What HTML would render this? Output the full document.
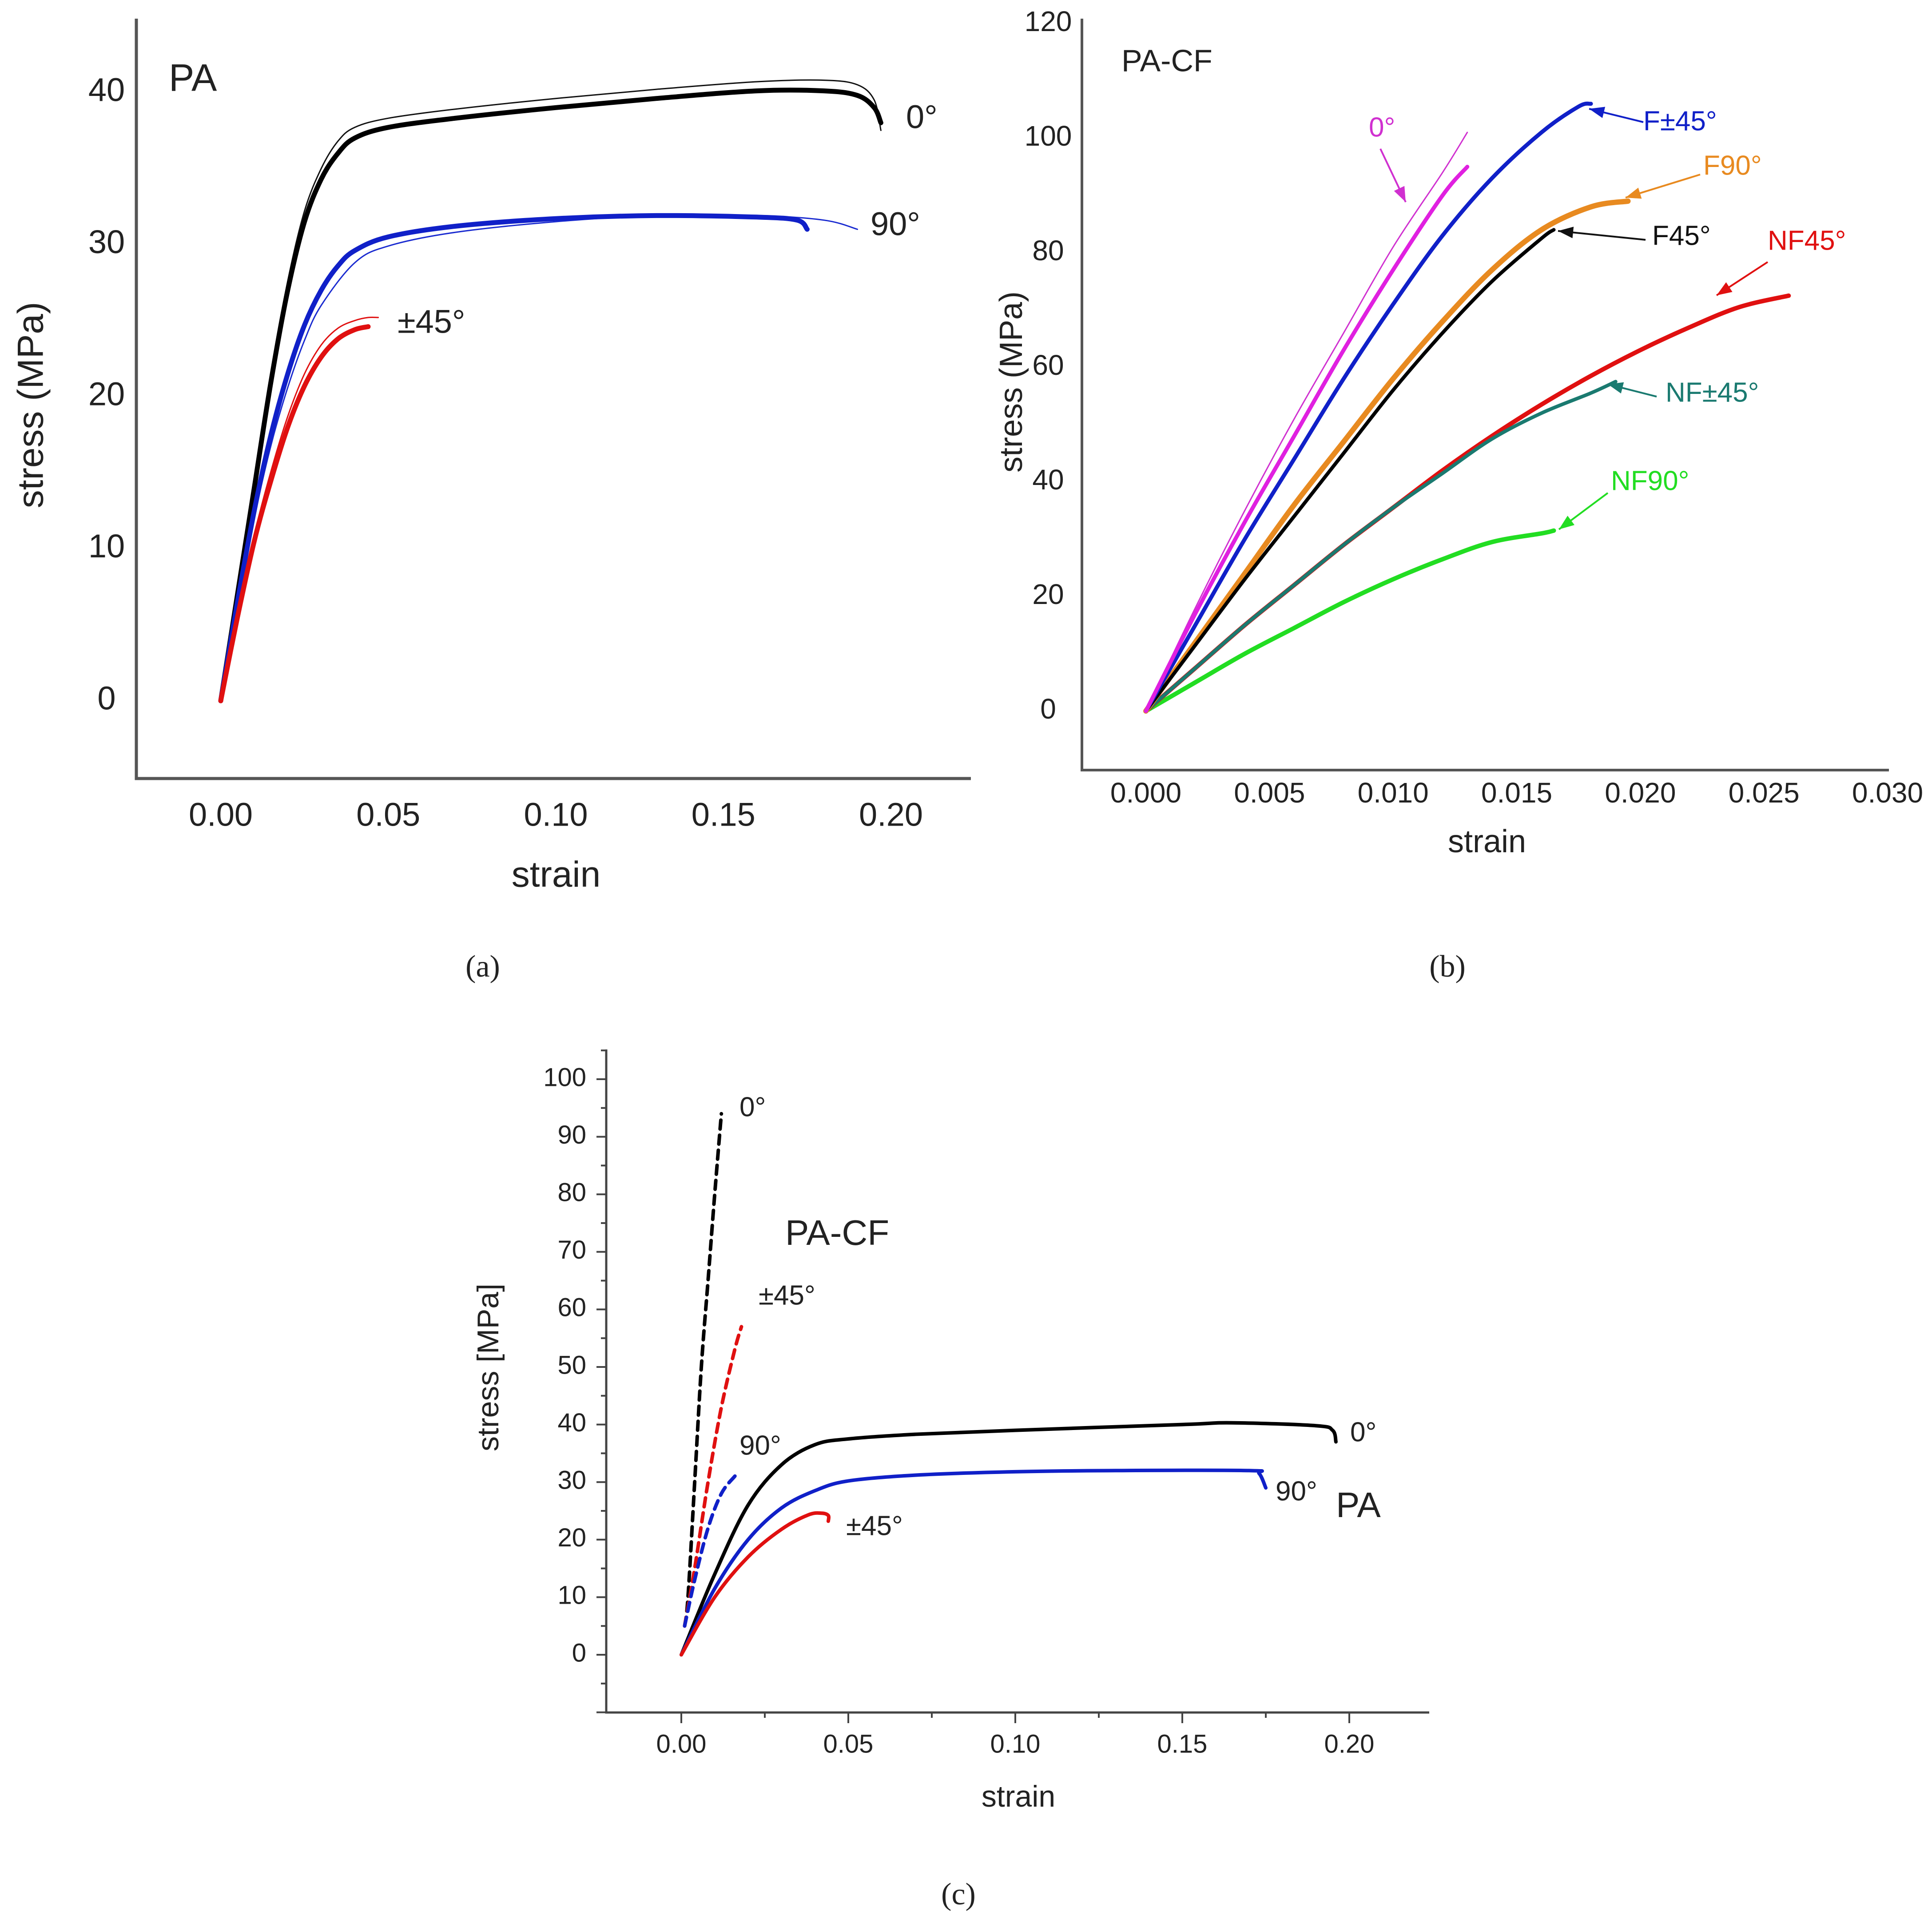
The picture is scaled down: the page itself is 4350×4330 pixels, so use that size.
<!DOCTYPE html>
<html><head><meta charset="utf-8">
<style>
html,body{margin:0;padding:0;background:#fff;}
svg{display:block;font-family:"Liberation Sans",sans-serif;}
</style></head>
<body>
<svg id="fig" width="4350" height="4330" viewBox="0 0 4350 4330" xmlns="http://www.w3.org/2000/svg">
<rect x="0" y="0" width="4350" height="4330" fill="#fff"/>
</svg>
<script>
// ---------- Chart (a) PA data ----------
const aStrain0 = [0,0.005,0.01,0.015,0.02,0.025,0.03,0.035,0.04,0.05,0.07,0.1,0.13,0.16,0.18,0.19,0.195,0.197];
const aStress0 = [0,7,14,21,27,31.5,34.3,36,37,37.7,38.3,39,39.6,40.1,40.1,39.8,39,38];
const aStress0b = [0,7.2,14.4,21.5,27.6,32.2,35,36.8,37.7,38.3,38.9,39.6,40.2,40.7,40.8,40.5,39.5,37.5];
const aStrain90 = [0,0.005,0.01,0.015,0.02,0.025,0.03,0.035,0.04,0.05,0.07,0.1,0.13,0.16,0.172,0.175];
const aStress90 = [0,6.5,12.5,17.5,21.5,24.7,27,28.6,29.6,30.5,31.2,31.7,31.9,31.8,31.6,31];
const aStrain90b = [0,0.005,0.01,0.015,0.02,0.025,0.03,0.04,0.05,0.07,0.1,0.13,0.16,0.18,0.19];
const aStress90b = [0,6.2,12,16.8,20.6,23.7,26,28.8,29.9,30.8,31.5,31.9,31.9,31.6,31];
const aStrain45 = [0,0.005,0.01,0.015,0.02,0.025,0.03,0.035,0.04,0.044];
const aStress45 = [0,5.5,10.5,14.5,18,20.7,22.6,23.8,24.4,24.6];
const aStrain45b = [0,0.005,0.01,0.015,0.02,0.025,0.03,0.035,0.04,0.044,0.047];
const aStress45b = [0,5.7,10.9,15.1,18.7,21.5,23.4,24.5,25,25.2,25.2];
const aXTicks = [0,0.05,0.10,0.15,0.20];
const aXTickLabels = ["0.00","0.05","0.10","0.15","0.20"];
const aYTicks = [0,10,20,30,40];

// ---------- Chart (b) PA-CF data ----------
const bStrainMag = [0,0.002,0.004,0.006,0.008,0.010,0.012,0.013];
const bStressMag = [0,17,33,48,63,77,90,95];
const bStrainMagThin = [0,0.002,0.004,0.006,0.008,0.010,0.012,0.013];
const bStressMagThin = [0,18,35,51,66,81,94,101];
const bStrainF45pm = [0,0.002,0.004,0.006,0.008,0.010,0.012,0.014,0.016,0.0175,0.018];
const bStressF45pm = [0,15,30,44,58,71,83,93,101,105.5,106];
const bStrainF90 = [0,0.002,0.004,0.006,0.008,0.010,0.012,0.014,0.016,0.018,0.0195];
const bStressF90 = [0,12,24,36,47,58,68,77,84,88,89];
const bStrainF45 = [0,0.002,0.004,0.006,0.008,0.010,0.012,0.014,0.016,0.0165];
const bStressF45 = [0,11.5,23,34,45,56,66,75,82.5,84];
const bStrainNF45 = [0,0.002,0.004,0.006,0.008,0.010,0.012,0.014,0.016,0.018,0.020,0.022,0.024,0.026];
const bStressNF45 = [0,7.5,15,22,29,35.5,42,48,53.5,58.5,63,67,70.5,72.5];
const bStrainNFpm = [0,0.002,0.004,0.006,0.008,0.010,0.012,0.014,0.016,0.018,0.019];
const bStressNFpm = [0,7.5,15,22,29,35.5,41.5,47.5,52,55.5,57.5];
const bStrainNF90 = [0,0.002,0.004,0.006,0.008,0.010,0.012,0.014,0.016,0.0165];
const bStressNF90 = [0,5,10,14.5,19,23,26.5,29.5,31,31.5];
const bXTicks = [0,0.005,0.010,0.015,0.020,0.025,0.030];
const bXTickLabels = ["0.000","0.005","0.010","0.015","0.020","0.025","0.030"];
const bYTicks = [0,20,40,60,80,100,120];

// ---------- Chart (c) comparison data ----------
const cStrainCF0 = [0.001,0.002,0.004,0.006,0.008,0.010,0.012];
const cStressCF0 = [5,10,30,50,65,80,94];
const cStrainCF45 = [0.001,0.004,0.008,0.012,0.016,0.018];
const cStressCF45 = [5,15,30,43,53,57];
const cStrainCF90 = [0.001,0.004,0.008,0.012,0.016,0.017];
const cStressCF90 = [5,13,22,28,31,31.5];
const cStrainPA0 = [0,0.01,0.02,0.03,0.04,0.05,0.07,0.1,0.15,0.165,0.19,0.195,0.196];
const cStressPA0 = [0,14,26,33,36.5,37.5,38.3,39,40,40.3,39.8,39,37];
const cStrainPA90 = [0,0.01,0.02,0.03,0.04,0.05,0.07,0.1,0.13,0.17,0.173,0.175];
const cStressPA90 = [0,11.5,20,25.5,28.5,30.2,31.2,31.8,32,32,31.5,29];
const cStrainPA45 = [0,0.01,0.02,0.03,0.038,0.042,0.044,0.044];
const cStressPA45 = [0,10,17,21.8,24.3,24.6,24.2,23.2];
const cXTicks = [0,0.05,0.10,0.15,0.20];
const cXTickLabels = ["0.00","0.05","0.10","0.15","0.20"];
const cYTicks = [0,10,20,30,40,50,60,70,80,90,100];

const NS = "http://www.w3.org/2000/svg";
const fig = document.getElementById('fig');
function el(tag, attrs, parent){
  const e = document.createElementNS(NS, tag);
  for (const k in attrs) e.setAttribute(k, attrs[k]);
  (parent||fig).appendChild(e);
  return e;
}
function linScale(d0,d1,r0,r1){ return v => r0 + (v-d0)*(r1-r0)/(d1-d0); }
function pathD(xs, ys, sx, sy){
  const P = xs.map((x,i)=>[sx(x), sy(ys[i])]);
  let d = 'M'+P[0][0].toFixed(1)+' '+P[0][1].toFixed(1);
  for (let i=0;i<P.length-1;i++){
    const p0 = P[Math.max(0,i-1)], p1 = P[i], p2 = P[i+1], p3 = P[Math.min(P.length-1,i+2)];
    const c1x = p1[0]+(p2[0]-p0[0])/6, c1y = p1[1]+(p2[1]-p0[1])/6;
    const c2x = p2[0]-(p3[0]-p1[0])/6, c2y = p2[1]-(p3[1]-p1[1])/6;
    d += ' C'+c1x.toFixed(1)+' '+c1y.toFixed(1)+' '+c2x.toFixed(1)+' '+c2y.toFixed(1)+' '+p2[0].toFixed(1)+' '+p2[1].toFixed(1);
  }
  return d;
}
function drawLine(g, xs, ys, sx, sy, color, w, name, dash){
  const p = el('path', {d: pathD(xs,ys,sx,sy), fill:'none', stroke:color, 'stroke-width':w, 'stroke-linejoin':'round', 'stroke-linecap':'round'}, g);
  if (dash) p.setAttribute('stroke-dasharray', dash);
  
  
  return p;
}
function text(g, x, y, s, size, opts){
  opts = opts||{};
  const t = el('text', {x:x, y:y, 'font-size':size, fill:opts.fill||'#222', 'text-anchor':opts.anchor||'start', 'dominant-baseline':'middle'}, g);
  if (opts.family) t.setAttribute('font-family', opts.family);
  if (opts.rotate) t.setAttribute('transform', 'rotate(-90 '+x+' '+y+')');
  t.textContent = s;
  
  
  return t;
}
function arrow(g, x1,y1,x2,y2,color,name){
  const a = el('line',{x1:x1,y1:y1,x2:x2,y2:y2,stroke:color,'stroke-width':4},g);
  
  
  const ang = Math.atan2(y2-y1,x2-x1), L=34, W=13;
  const bx = x2 - L*Math.cos(ang), by = y2 - L*Math.sin(ang);
  const h = el('polygon',{points:[x2,y2, bx+W*Math.sin(ang), by-W*Math.cos(ang), bx-W*Math.sin(ang), by+W*Math.cos(ang)].join(' '), fill:color},g);
  
  
}

// ===== Chart a =====
(function(){
  const g = el('g',{});
  
  
  const sx = linScale(0,0.20,497,2006), sy = linScale(0,40,1578,208);
  const ax = el('path',{d:'M307 42 L307 1753 L2186 1753',fill:'none',stroke:'#555','stroke-width':7},g);
   
  aYTicks.forEach(v=>text(g,240,sy(v),String(v),74,{anchor:'middle',name:'y-tick-label'}));
  aXTicks.forEach((v,i)=>text(g,sx(v),1840,aXTickLabels[i],74,{anchor:'middle',name:'x-tick-label'}));
  text(g,1252,1975,'strain',82,{anchor:'middle',name:'x-axis-title'});
  text(g,75,912,'stress (MPa)',82,{anchor:'middle',rotate:true,name:'y-axis-title'});
  text(g,380,182,'PA',86,{name:'chart-a-title'});
  drawLine(g,aStrain0,aStress0b,sx,sy,'#111',3,'series-0deg-replicate');
  drawLine(g,aStrain0,aStress0,sx,sy,'#000',11,'series-0deg');
  drawLine(g,aStrain90b,aStress90b,sx,sy,'#1a2bd0',3,'series-90deg-replicate');
  drawLine(g,aStrain90,aStress90,sx,sy,'#1020c8',11,'series-90deg');
  drawLine(g,aStrain45b,aStress45b,sx,sy,'#e01010',3,'series-pm45deg-replicate');
  drawLine(g,aStrain45,aStress45,sx,sy,'#e01010',11,'series-pm45deg');
  text(g,2040,269,'0°',74,{name:'label-0deg'});
  text(g,1960,510,'90°',74,{name:'label-90deg'});
  text(g,895,730,'±45°',74,{name:'label-pm45deg'});
  text(g,1087,2183,'(a)',70,{anchor:'middle',family:'"Liberation Serif",serif',name:'caption-a'});
})();

// ===== Chart b =====
(function(){
  const g = el('g',{});
  
  
  const sx = linScale(0,0.030,2580,4250), sy = linScale(0,120,1601,53);
  const ax = el('path',{d:'M2436 42 L2436 1734 L4253 1734',fill:'none',stroke:'#555','stroke-width':6},g);
   
  bYTicks.forEach(v=>text(g,2360,sy(v),String(v),64,{anchor:'middle',name:'y-tick-label'}));
  bXTicks.forEach((v,i)=>text(g,sx(v),1790,bXTickLabels[i],64,{anchor:'middle',name:'x-tick-label'}));
  text(g,3348,1900,'strain',72,{anchor:'middle',name:'x-axis-title'});
  text(g,2282,860,'stress (MPa)',72,{anchor:'middle',rotate:true,name:'y-axis-title'});
  text(g,2525,142,'PA-CF',70,{name:'chart-b-title'});
  drawLine(g,bStrainNF90,bStressNF90,sx,sy,'#22dd22',10,'series-nf90');
  drawLine(g,bStrainNF45,bStressNF45,sx,sy,'#e01010',10,'series-nf45');
  drawLine(g,bStrainNFpm,bStressNFpm,sx,sy,'#1a7a70',8,'series-nf-pm45');
  drawLine(g,bStrainF90,bStressF90,sx,sy,'#e88a20',12,'series-f90');
  drawLine(g,bStrainF45,bStressF45,sx,sy,'#000',8,'series-f45');
  drawLine(g,bStrainF45pm,bStressF45pm,sx,sy,'#1020c8',9,'series-f-pm45');
  drawLine(g,bStrainMagThin,bStressMagThin,sx,sy,'#d030d0',3,'series-0deg-replicate');
  drawLine(g,bStrainMag,bStressMag,sx,sy,'#e020e0',9,'series-0deg');
  text(g,3082,291,'0°',62,{fill:'#d030d0',name:'label-0deg'});
  arrow(g,3108,335,3165,455,'#d030d0','arrow-0deg');
  text(g,3700,277,'F±45°',62,{fill:'#1020c8',name:'label-f-pm45'});
  arrow(g,3700,275,3578,245,'#1020c8','arrow-f-pm45');
  text(g,3835,377,'F90°',62,{fill:'#e88a20',name:'label-f90'});
  arrow(g,3828,393,3660,445,'#e88a20','arrow-f90');
  text(g,3720,535,'F45°',62,{fill:'#111',name:'label-f45'});
  arrow(g,3705,540,3508,520,'#111','arrow-f45');
  text(g,3980,546,'NF45°',62,{fill:'#e01010',name:'label-nf45'});
  arrow(g,3980,590,3865,665,'#e01010','arrow-nf45');
  text(g,3750,888,'NF±45°',62,{fill:'#1a7a70',name:'label-nf-pm45'});
  arrow(g,3730,893,3620,865,'#1a7a70','arrow-nf-pm45');
  text(g,3627,1087,'NF90°',62,{fill:'#22dd22',name:'label-nf90'});
  arrow(g,3620,1110,3510,1192,'#22dd22','arrow-nf90');
  text(g,3259,2183,'(b)',70,{anchor:'middle',family:'"Liberation Serif",serif',name:'caption-b'});
})();

// ===== Chart c =====
(function(){
  const g = el('g',{});
  
  
  const sx = linScale(0,0.20,1534,3038), sy = linScale(0,100,3726,2430);
  const ax = el('path',{d:'M1365 2363 L1365 3856 L3218 3856',fill:'none',stroke:'#444','stroke-width':5},g);
   
  for (let v=-10; v<=105; v+=5){
    const major = v%10===0;
    const t = el('line',{x1:1365,x2:major?1343:1353,y1:sy(v),y2:sy(v),stroke:'#444','stroke-width':4},g);
     
  }
  for (let i=-1; i<=9; i++){
    const v = i*0.025, major = i%2===0;
    if (sx(v) < 1365 || sx(v) > 3218) continue;
    const t = el('line',{x1:sx(v),x2:sx(v),y1:3856,y2:major?3880:3868,stroke:'#444','stroke-width':4},g);
     
  }
  cYTicks.forEach(v=>text(g,1320,sy(v),String(v),58,{anchor:'end',name:'y-tick-label'}));
  cXTicks.forEach((v,i)=>text(g,sx(v),3931,cXTickLabels[i],58,{anchor:'middle',name:'x-tick-label'}));
  text(g,2293,4050,'strain',68,{anchor:'middle',name:'x-axis-title'});
  text(g,1104,3079,'stress [MPa]',68,{anchor:'middle',rotate:true,name:'y-axis-title'});
  drawLine(g,cStrainCF0,cStressCF0,sx,sy,'#000',8,'series-pacf-0deg','20 14');
  drawLine(g,cStrainCF45,cStressCF45,sx,sy,'#e01010',8,'series-pacf-pm45deg','20 14');
  drawLine(g,cStrainCF90,cStressCF90,sx,sy,'#1020c8',8,'series-pacf-90deg','20 14');
  drawLine(g,cStrainPA0,cStressPA0,sx,sy,'#000',8,'series-pa-0deg');
  drawLine(g,cStrainPA90,cStressPA90,sx,sy,'#1020c8',8,'series-pa-90deg');
  drawLine(g,cStrainPA45,cStressPA45,sx,sy,'#e01010',8,'series-pa-pm45deg');
  text(g,1665,2497,'0°',62,{name:'label-pacf-0deg'});
  text(g,1768,2782,'PA-CF',80,{name:'label-pacf'});
  text(g,1708,2921,'±45°',62,{name:'label-pacf-pm45deg'});
  text(g,1665,3259,'90°',62,{name:'label-pacf-90deg'});
  text(g,3040,3229,'0°',62,{name:'label-pa-0deg'});
  text(g,2872,3362,'90°',62,{name:'label-pa-90deg'});
  text(g,3008,3395,'PA',80,{name:'label-pa'});
  text(g,1905,3440,'±45°',62,{name:'label-pa-pm45deg'});
  text(g,2158,4272,'(c)',70,{anchor:'middle',family:'"Liberation Serif",serif',name:'caption-c'});
})();
</script>
</body></html>
